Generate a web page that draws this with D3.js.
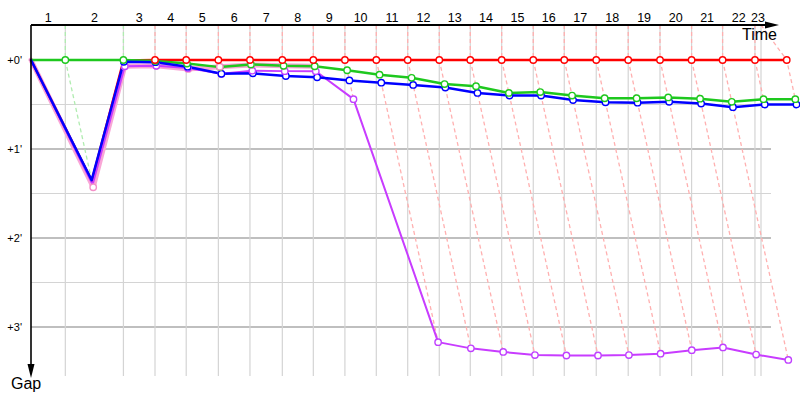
<!DOCTYPE html>
<html><head><meta charset="utf-8">
<script src="https://cdn.jsdelivr.net/npm/d3@7"></script>
<style>
body{margin:0;background:#fff}
svg{display:block}
text{font-family:"Liberation Sans",Arial,sans-serif;fill:#000}
</style>
</head><body><svg id="c" width="800" height="400"></svg>
<script>
// ---- data ----
const lapLabels = ["1","2","3","4","5","6","7","8","9","10","11","12","13","14","15","16","17","18","19","20","21","22","23"];
// cumulative leader crossing time (minutes) for lap 0..23
const leaderTimes = [0, 1.76, 4.74, 6.36, 7.96, 9.61, 11.23, 12.89, 14.48, 16.10, 17.71, 19.32, 20.94, 22.53, 24.14, 25.76, 27.35, 28.99, 30.63, 32.26, 33.88, 35.47, 37.13, 38.76];
const timeMax = 37.44;
const gapMajorTicks = [0, 1, 2, 3];
const gapMinorTicks = [0.5, 1.5, 2.5];
const gapTickLabels = ["+0'", "+1'", "+2'", "+3'"];
// gaps to leader (minutes), index = lap
const redGaps    = [0, 1.36, 0.005, 0, 0, 0, 0, 0, 0, 0, 0, 0, 0, 0, 0, 0, 0, 0, 0, 0, 0, 0, 0, 0];
const greenGaps  = [0, 0, 0, 0.01, 0.04, 0.08, 0.05, 0.065, 0.07, 0.115, 0.165, 0.20, 0.27, 0.295, 0.37, 0.36, 0.40, 0.43, 0.43, 0.42, 0.435, 0.47, 0.44, 0.44];
const blueGaps   = [0, 1.35, 0.02, 0.025, 0.075, 0.155, 0.15, 0.18, 0.195, 0.23, 0.255, 0.28, 0.31, 0.37, 0.40, 0.40, 0.45, 0.475, 0.48, 0.47, 0.49, 0.53, 0.50, 0.50];
const purpleGaps = [0, 1.40, 0.07, 0.065, 0.09, 0.155, 0.12, 0.125, 0.127, 0.44, 3.17, 3.24, 3.28, 3.315, 3.32, 3.32, 3.315, 3.30, 3.26, 3.23, 3.31, 3.37];
const pinkGaps   = [0, 1.43, 0.07, 0.065, 0.10, 0.075, 0.055, 0.065, 0.07];
// first lap on which each car's marker is shown
const markerFromLap = {pink:1, red:3, purple:2, green:1, blue:2};

const series = [
  {name:"pink",   gaps:pinkGaps,   color:"#f9a6d6", width:5,   dot:"#f490c8", light:"#ffc8e6"},
  {name:"red",    gaps:redGaps,    color:"#ff0000", width:2.5, dot:"#ff0000", light:"#ffb0b0"},
  {name:"purple", gaps:purpleGaps, color:"#c83cff", width:2,   dot:"#c040ff", light:"#e8b8ff"},
  {name:"green",  gaps:greenGaps,  color:"#1ec81e", width:2.5, dot:"#1ec81e", light:"#b0ecb0"},
  {name:"blue",   gaps:blueGaps,   color:"#0000ff", width:2.5, dot:"#0000ff", light:"#b0b0ff"}
];

// ---- scales ----
const svg = d3.select("#c");
const x = d3.scaleLinear().domain([0, timeMax]).range([31, 761]);
const y = d3.scaleLinear().domain([0, 3]).range([60, 327]);
const yTop = 25, yBottom = 376, gridRight = 771;

series.forEach(s => {
  s.pts = s.gaps.map((g, i) => ({lap:i, gap:g, t:leaderTimes[i] + g, s}));
});

// ---- grid ----
const grid = svg.append("g");
grid.selectAll("line.h").data(gapMinorTicks).join("line")
  .attr("x1", x(0)).attr("x2", gridRight).attr("y1", d => y(d)).attr("y2", d => y(d))
  .attr("stroke", "#d4d4d4").attr("stroke-width", 1.2);
grid.selectAll("line.hm").data(gapMajorTicks.slice(1)).join("line")
  .attr("x1", x(0)).attr("x2", gridRight).attr("y1", d => y(d)).attr("y2", d => y(d))
  .attr("stroke", "#808080").attr("stroke-width", 1.2);
const gridTimes = leaderTimes.map(t => Math.min(t, timeMax));
grid.selectAll("line.v").data(gridTimes.slice(1)).join("line")
  .attr("x1", d => x(d)).attr("x2", d => x(d)).attr("y1", yTop).attr("y2", yBottom)
  .attr("stroke", "#d4d4d4").attr("stroke-width", 1.2);

// ---- lap dashed lines ----
const lapG = svg.append("g");
for (let i = 1; i < leaderTimes.length; i++) {
  const pts = series.filter(s => s.gaps.length > i).map(s => s.pts[i]).sort((a, b) => a.gap - b.gap);
  if (!pts.length) continue;
  const coords = [[x(gridTimes[i]), yTop]].concat(pts.map(p => [x(p.t), y(p.gap)]));
  lapG.append("path").attr("d", d3.line()(coords))
    .attr("fill", "none").attr("stroke", pts[0].s.light)
    .attr("stroke-width", 1.3).attr("stroke-dasharray", "4,3");
}

// ---- series lines ----
const line = d3.line().x(p => x(p.t)).y(p => y(p.gap));
series.forEach(s => {
  svg.append("path").attr("d", line(s.pts)).attr("fill", "none")
    .attr("stroke", s.color).attr("stroke-width", s.width)
    .attr("stroke-linejoin", "round").attr("stroke-linecap", "round");
});

// ---- dots ----
const allDots = [];
series.forEach(s => s.pts.filter(p => p.lap >= markerFromLap[s.name]).forEach(p => allDots.push(p)));
allDots.sort((a, b) => a.lap - b.lap || b.gap - a.gap);
svg.append("g").selectAll("circle").data(allDots).join("circle")
  .attr("cx", p => x(p.t)).attr("cy", p => y(p.gap)).attr("r", 3.2)
  .attr("fill", "#fff").attr("stroke", p => p.s.dot).attr("stroke-width", 1.4);

// ---- axes ----
const ax = svg.append("g");
ax.append("line").attr("x1", 31).attr("x2", 768).attr("y1", yTop).attr("y2", yTop)
  .attr("stroke", "#000").attr("stroke-width", 1.8);
ax.append("path").attr("d", "M765,21.5 L779,25 L765,28.5 Z").attr("fill", "#000");
ax.append("line").attr("x1", 31).attr("x2", 31).attr("y1", yTop).attr("y2", 366)
  .attr("stroke", "#000").attr("stroke-width", 1.6);
ax.append("path").attr("d", "M27.5,364 L31,378 L34.5,364 Z").attr("fill", "#000");

const mids = lapLabels.map((l, i) => (x(gridTimes[i]) + x(gridTimes[i + 1])) / 2);
ax.selectAll("text.lap").data(lapLabels).join("text")
  .attr("x", (d, i) => mids[i]).attr("y", 22).attr("text-anchor", "middle")
  .attr("font-size", 12.5).text(d => d);

ax.selectAll("text.gap").data(gapMajorTicks).join("text")
  .attr("x", 22).attr("y", d => y(d) + 4).attr("text-anchor", "end")
  .attr("font-size", 11).text((d, i) => gapTickLabels[i]);

ax.append("text").attr("x", 777).attr("y", 40).attr("text-anchor", "end")
  .attr("font-size", 16).text("Time");
ax.append("text").attr("x", 11).attr("y", 389).attr("font-size", 16).text("Gap");
</script>
</body></html>
